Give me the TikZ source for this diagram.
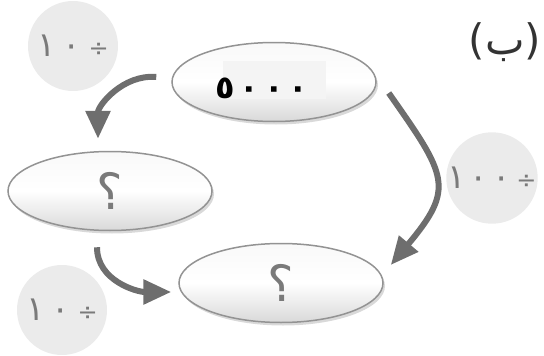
\documentclass[tikz,border=0pt]{standalone}
\usepackage{fontspec}
\newfontfamily\arabicfont[Script=Arabic]{DejaVu Sans}
\TeXXeTstate=1
\usetikzlibrary{arrows.meta,shapes.geometric,shadows}
\definecolor{arrowgray}{HTML}{6E6E6E}
\definecolor{discgray}{HTML}{EBEBEB}
\definecolor{labelgray}{HTML}{7A7A7A}
\newcommand{\divsign}{{\fontsize{24}{24}\selectfont ÷}}

\begin{document}
\begin{tikzpicture}[x=1pt,y=-1pt,>={Triangle[length=28pt,width=24pt]},
                    value node/.style={ellipse,draw=gray!85,line width=1.5pt,
                      minimum width=204pt,minimum height=79pt,inner sep=0pt,
                      top color=gray!5,bottom color=gray!30,middle color=white,
                      drop shadow={opacity=0.3,shadow xshift=2pt,shadow yshift=-3pt}},
                    op node/.style={circle,fill=discgray,minimum size=90pt,inner sep=0pt,
                      text=labelgray,font=\arabicfont\fontsize{34}{34}\selectfont},
                    flow/.style={line width=6pt,draw=arrowgray,->}]
  \useasboundingbox (0,0) rectangle (544,356);
  % operation discs
  \node[op node] (op1) at (73,46) {١\hspace{7pt}٠\hspace{8pt}\divsign};
  \node[op node] (op2) at (492,178) {١\hspace{4pt}٠\hspace{4pt}٠\hspace{6pt}\divsign};
  \node[op node] (op3) at (62,310) {١\hspace{7pt}٠\hspace{8pt}\divsign};
  % value ellipses
  \node[value node] (top) at (274,82) {};
  \node[value node] (mid) at (110,191) {};
  \node[value node] (bot) at (281,283) {};
  \fill[gray!9] (223,61) rectangle (326,99);
  \node[font=\arabicfont\bfseries\fontsize{32}{32}\selectfont] (start) at (262,88)
    {٥\hspace{5pt}٠\hspace{5pt}٠\hspace{5pt}٠};
  \node[text=labelgray,font=\arabicfont\fontsize{50}{50}\selectfont] (q1) at (mid) {؟};
  \node[text=labelgray,font=\arabicfont\fontsize{50}{50}\selectfont] (q2) at (bot) {؟};
  \node[text=black!80,font=\arabicfont\fontsize{42}{42}\selectfont] (part) at (505,42)
    {\beginR(ب)\endR};
  % arrows
  \draw[flow] ([xshift=-15pt,yshift=5pt]top.west) to[out=175,in=90]
    ([xshift=-12pt,yshift=12pt]mid.north);
  \draw[flow] ([xshift=12pt,yshift=-11pt]top.east) to[out=-55,in=50,looseness=1.5]
    ([xshift=7pt,yshift=18pt]bot.east);
  \draw[flow] ([xshift=-13pt,yshift=-16pt]mid.south) to[out=-90,in=180]
    ([xshift=-7pt,yshift=-9pt]bot.west);
\end{tikzpicture}
\end{document}
